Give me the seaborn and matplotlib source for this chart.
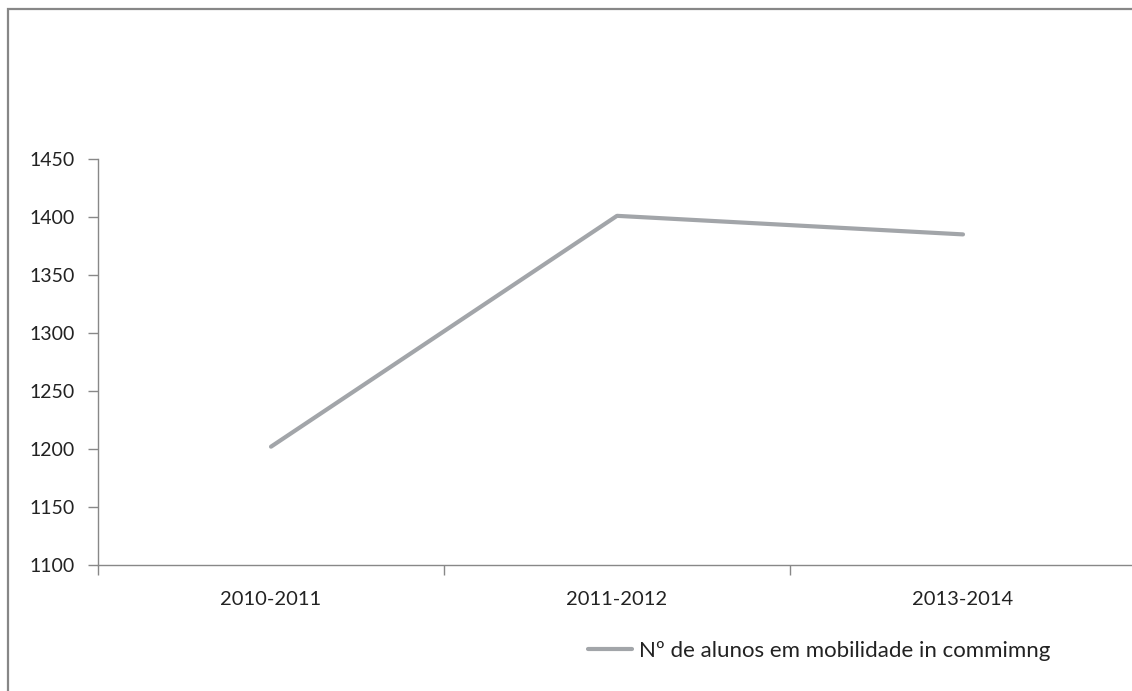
import matplotlib
matplotlib.use("Agg")
import matplotlib.pyplot as plt
import seaborn as sns
import pandas as pd
from matplotlib.patches import Rectangle

categories = ["2010-2011", "2011-2012", "2013-2014"]
values = [1202, 1401, 1385]
series_name = "Nº de alunos em mobilidade in commimng"
y_ticks = [1100, 1150, 1200, 1250, 1300, 1350, 1400, 1450]

sns.set_theme(style="white")
plt.rcParams['font.family'] = ['Lato', 'DejaVu Sans']

df = pd.DataFrame({"periodo": categories, "valor": values, "serie": series_name})

W, H = 1132, 691
fig = plt.figure(figsize=(W / 100, H / 100), dpi=100)
fig.patch.set_facecolor("white")

# outer chart border (Excel-like)
fig.patches.append(Rectangle((8 / W, -0.05), 1.1, (H - 9) / H + 0.05,
                             transform=fig.transFigure, fill=False,
                             edgecolor="#878787", linewidth=1.6, zorder=0))

left, right = 98 / W, 1136 / W
bottom, top = (H - 565) / H, (H - 159) / H
ax = fig.add_axes([left, bottom, right - left, top - bottom])

line_color = "#A2A5A9"
sns.lineplot(data=df, x="periodo", y="valor", hue="serie", palette=[line_color],
             sort=False, linewidth=3.0, ax=ax)

ax.set_xlim(-0.5, len(categories) - 0.5)
ax.set_ylim(y_ticks[0], y_ticks[-1])
ax.set_yticks(y_ticks)
ax.set_yticklabels([str(t) for t in y_ticks], fontsize=14, color="#222222")

# category boundaries as major ticks, labels on minor ticks at centres
ax.set_xticks([i - 0.5 for i in range(len(categories) + 1)])
ax.set_xticklabels([""] * (len(categories) + 1))
ax.set_xticks(range(len(categories)), minor=True)
ax.set_xticklabels(categories, minor=True, fontsize=14.5, color="#222222")
ax.tick_params(axis="x", which="major", length=7, width=1, color="#888888", direction="out", bottom=True)
ax.tick_params(axis="x", which="minor", length=0, pad=19)
ax.tick_params(axis="y", length=7, width=1, color="#888888", direction="out", left=True, pad=10)

ax.set_xlabel("")
ax.set_ylabel("")
for s in ["top", "right"]:
    ax.spines[s].set_visible(False)
for s in ["left", "bottom"]:
    ax.spines[s].set_color("#888888")
    ax.spines[s].set_linewidth(1)
ax.grid(False)

handles, labels = ax.get_legend_handles_labels()
ax.legend(handles, labels, loc="center left", bbox_to_anchor=(588 / W, (H - 651) / H),
          bbox_transform=fig.transFigure, frameon=False, fontsize=16,
          handlelength=2.0, handletextpad=0.3, borderpad=0, borderaxespad=0,
          labelcolor="#222222")

fig.savefig("out.png", dpi=100, facecolor="white")
